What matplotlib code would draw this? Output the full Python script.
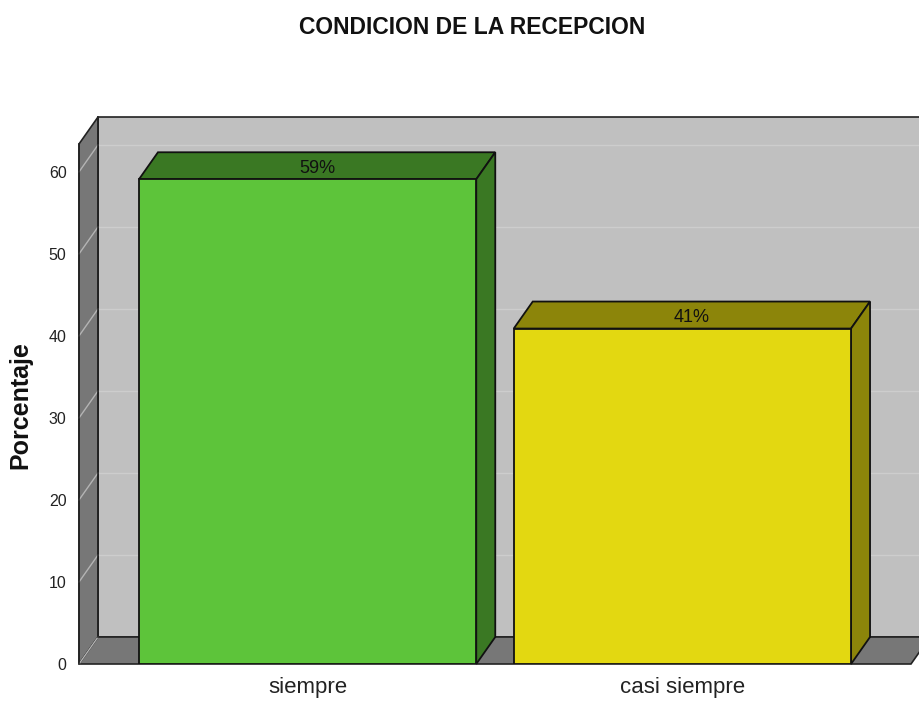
import matplotlib
matplotlib.use("Agg")
import matplotlib.pyplot as plt
from matplotlib.patches import Polygon

# data
categorias = ["siempre", "casi siempre"]
porcentajes = [59.1, 40.9]
etiquetas = ["59%", "41%"]
colores_frente = ["#5dc43a", "#e3d811"]
colores_lado = ["#3a7823", "#8c850a"]
yticks = [0, 10, 20, 30, 40, 50, 60]

SANS = ["Liberation Sans", "DejaVu Sans"]

W, H = 920, 705
fig = plt.figure(figsize=(W / 100, H / 100), dpi=100)
# front plane of the 3d box, in pixels
x0, x1, y0, y1 = 79, 911, 664, 144
ax = fig.add_axes([x0 / W, (H - y0) / H, (x1 - x0) / W, (y0 - y1) / H])
xmin, xmax = -0.61, 1.61
ymax = 63.4
ax.set_xlim(xmin, xmax)
ax.set_ylim(0, ymax)

# depth of the 3d effect (19 px right, 27 px up) in data units
dx = 19 * (xmax - xmin) / (x1 - x0)
dy = 27 * ymax / (y0 - y1)

gris_fondo = "#c0c0c0"
gris_osc = "#777777"

# back wall
ax.add_patch(Polygon([(xmin + dx, dy), (xmax + dx, dy), (xmax + dx, ymax + dy),
                      (xmin + dx, ymax + dy)], closed=True, fc=gris_fondo,
                     ec="#222222", lw=1.2, clip_on=False, zorder=1))
# left wall
ax.add_patch(Polygon([(xmin, 0), (xmin, ymax), (xmin + dx, ymax + dy), (xmin + dx, dy)],
                     closed=True, fc=gris_osc, ec="#222222", lw=1.2, clip_on=False, zorder=2))
# floor
ax.add_patch(Polygon([(xmin, 0), (xmax, 0), (xmax + dx, dy), (xmin + dx, dy)],
                     closed=True, fc=gris_osc, ec="#222222", lw=1.2, clip_on=False, zorder=2))

# grid lines on back wall + diagonals on the left wall
for t in yticks:
    if t > 0:
        ax.plot([xmin + dx, xmax + dx], [t + dy, t + dy], color="#cdcdcd", lw=1,
                clip_on=False, zorder=1.5)
    ax.plot([xmin, xmin + dx], [t, t + dy], color="#b4b4b4", lw=1, clip_on=False, zorder=2.5)
ax.plot([xmin + dx, xmin + dx], [dy, ymax + dy], color="#222222", lw=1.2, clip_on=False, zorder=2.6)
ax.plot([xmin, xmin], [0, ymax], color="#222222", lw=1.2, clip_on=False, zorder=2.6)

# bars
ancho = 0.9
for i, (v, cf, cl, lab) in enumerate(zip(porcentajes, colores_frente, colores_lado, etiquetas)):
    a, b = i - ancho / 2, i + ancho / 2
    ax.add_patch(Polygon([(a, v), (b, v), (b + dx, v + dy), (a + dx, v + dy)], closed=True,
                         fc=cl, ec="#111111", lw=1.3, clip_on=False, zorder=3))
    ax.add_patch(Polygon([(b, 0), (b + dx, dy), (b + dx, v + dy), (b, v)], closed=True,
                         fc=cl, ec="#111111", lw=1.3, clip_on=False, zorder=3))
    ax.bar(i, v, width=ancho, color=cf, edgecolor="#111111", lw=1.3, zorder=4)
    ax.text(i + dx / 2, v + dy * 0.4, lab, ha="center", va="center", fontsize=13,
            family=SANS, color="#111111", zorder=5)

for s in ax.spines.values():
    s.set_visible(False)
ax.set_xticks(range(len(categorias)))
ax.set_xticklabels(categorias, family=SANS, fontsize=16, color="#222222")
ax.set_yticks(yticks)
ax.set_yticklabels([str(t) for t in yticks], family=SANS, fontsize=11.5, color="#222222")
ax.tick_params(axis="both", length=0)
ax.tick_params(axis="x", pad=9)
ax.tick_params(axis="y", pad=9)
ax.set_facecolor("none")

fig.text(20 / W, 1 - 405 / H, "Porcentaje", rotation=90, ha="center", va="center",
         fontsize=18, fontweight="bold", family=SANS, color="#111111")
fig.text(472 / W, 1 - 27 / H, "CONDICION DE LA RECEPCION", ha="center", va="center",
         fontsize=16.5, fontweight="bold", family=SANS, color="#111111")

fig.savefig("out.png", dpi=100)
